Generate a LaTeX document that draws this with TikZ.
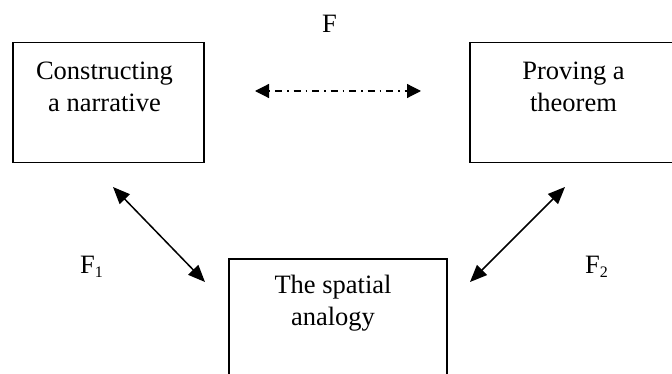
\documentclass[tikz,border=0pt]{standalone}
\usepackage{fontspec}
\setmainfont{Liberation Serif}
\usetikzlibrary{arrows.meta, positioning}
\newcommand{\fsub}[1]{\raisebox{-4pt}{\fontsize{16}{16}\selectfont #1}}
\begin{document}
\begin{tikzpicture}[x=1pt, y=-1pt,
  stagebox/.style={draw, line width=1.6pt, inner sep=0pt, minimum height=120pt},
  stagetext/.style={align=center, font=\fontsize{26.5}{32}\selectfont, anchor=base, inner sep=0pt},
  flabel/.style={font=\fontsize{26.5}{32}\selectfont, anchor=base west, inner sep=0pt},
  twoway/.style={{Triangle[length=17pt,width=14pt]}-{Triangle[length=17pt,width=14pt]}, line width=1.5pt}]
  \useasboundingbox (0,0) rectangle (672,374);
  \clip (0,0) rectangle (672,374);
  % boxes
  \node[stagebox, minimum width=191pt] (narr) at (108.5,102.7) {};
  \node[stagebox, minimum width=208pt] (proof) at (574,102.7) {};
  \node[stagebox, minimum width=218pt, minimum height=126pt] (space) at (338,322) {};
  \node[stagetext] (narrtxt) at (104.5,112) {Constructing\\a narrative};
  \node[stagetext] (prooftxt) at (573.5,112) {Proving a\\theorem};
  \node[stagetext] (spacetxt) at (333,325) {The spatial\\analogy};
  % labels
  \node[flabel] (f) at (322,33) {F};
  \node[flabel] (f1) at (80,273) {F\fsub{1}};
  \node[flabel] (f2) at (585,273) {F\fsub{2}};
  % connectors
  \coordinate (fa) at (255,91);
  \coordinate (fb) at (421,91);
  \coordinate (na) at (113,187);
  \coordinate (nb) at (205,282);
  \coordinate (pa) at (565,187);
  \coordinate (pb) at (470,282);
  \draw[line width=1.2pt, dash pattern=on 1.5pt off 5pt on 7pt off 5pt,
    {Triangle[length=14pt,width=14pt]}-{Triangle[length=14pt,width=14pt]}] (fa) -- (fb);
  \draw[twoway] (na) -- (nb);
  \draw[twoway] (pa) -- (pb);
\end{tikzpicture}
\end{document}
